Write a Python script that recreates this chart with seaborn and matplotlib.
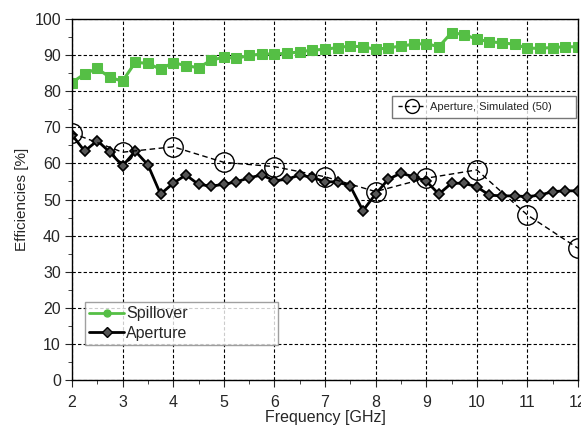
import numpy as np
import pandas as pd
import matplotlib
matplotlib.use("Agg")
import matplotlib.pyplot as plt
import seaborn as sns
from matplotlib.lines import Line2D
from matplotlib.ticker import MultipleLocator

freq = [2 + 0.25 * i for i in range(41)]
spillover = [82.4, 84.8, 86.3, 83.8, 82.8, 88.0, 87.7, 86.1, 87.9, 87.1,
             86.5, 88.6, 89.4, 89.1, 89.9, 90.3, 90.3, 90.5, 90.9, 91.4,
             91.6, 92.1, 92.5, 92.3, 91.6, 92.0, 92.5, 93.0, 93.2, 92.3,
             96.2, 95.7, 94.4, 93.7, 93.4, 93.0, 91.9, 91.9, 92.1, 92.3, 92.3]
aperture = [67.9, 63.4, 66.3, 63.1, 59.3, 63.4, 59.6, 51.5, 54.5, 56.8,
            54.2, 53.7, 54.2, 54.9, 56.0, 56.8, 55.2, 55.6, 56.8, 56.1,
            54.9, 54.9, 53.7, 46.9, 51.5, 55.6, 57.3, 56.3, 55.1, 51.5,
            54.5, 54.5, 53.5, 51.2, 51.0, 51.0, 50.8, 51.2, 52.2, 52.4, 52.4]
sim_freq = [2, 3, 4, 5, 6, 7, 8, 9, 10, 11, 12]
sim_aperture = [68.4, 63.1, 64.6, 60.3, 59.1, 56.3, 52.2, 55.9, 58.2, 45.7, 36.5]

df = pd.DataFrame({"freq": freq, "spill": spillover, "ap": aperture})
dfs = pd.DataFrame({"freq": sim_freq, "sim": sim_aperture})

sns.set_style("white")
plt.rcParams["font.family"] = ["Liberation Sans", "DejaVu Sans"]

fig = plt.figure(figsize=(5.81, 4.25), dpi=100)
ax = fig.add_axes([72 / 581, 45 / 425, 506 / 581, 361 / 425])

green = "#55bf45"
sns.lineplot(data=df, x="freq", y="spill", ax=ax, color=green, lw=2.2,
             marker="s", markersize=6.5, markeredgecolor=green, markerfacecolor=green)
sns.lineplot(data=df, x="freq", y="ap", ax=ax, color="black", lw=2.0,
             marker="D", markersize=5.5, markeredgecolor="black",
             markerfacecolor="#555555", markeredgewidth=1.2)
sns.lineplot(data=dfs, x="freq", y="sim", ax=ax, color="black", lw=1.0,
             linestyle=(0, (4, 2.5)), marker="o", markersize=14,
             markerfacecolor="none", markeredgecolor="black", markeredgewidth=1.0)

ax.set_xlim(2, 12)
ax.set_ylim(0, 100)
ax.xaxis.set_major_locator(MultipleLocator(1))
ax.xaxis.set_minor_locator(MultipleLocator(0.5))
ax.yaxis.set_major_locator(MultipleLocator(10))
ax.yaxis.set_minor_locator(MultipleLocator(5))
ax.grid(True, which="major", color="black", linestyle=(0, (3, 2)), lw=0.8)
ax.tick_params(which="major", direction="out", length=5, width=0.8,
               labelsize=11.5, bottom=True, left=True, pad=3)
ax.tick_params(axis="x", which="major", pad=6)
ax.tick_params(which="minor", direction="out", length=3, width=0.6,
               bottom=True, left=True)
for s in ax.spines.values():
    s.set_color("black")
    s.set_linewidth(1.0)

ax.set_xlabel("Frequency [GHz]", fontsize=11.5, labelpad=0)
ax.set_ylabel("Efficiencies [%]", fontsize=11, labelpad=4)

h1 = [Line2D([], [], color=green, lw=2, marker="o", markersize=5, markerfacecolor=green),
      Line2D([], [], color="black", lw=2, marker="D", markersize=5, markerfacecolor="#555555")]
leg1 = ax.legend(h1, ["Spillover", "Aperture"], loc="lower left",
                 bbox_to_anchor=(0.026, 0.097, 0.381, 0.133), mode="expand",
                 fontsize=11.5, frameon=True, fancybox=False, edgecolor="#888888",
                 handlelength=2.2, handletextpad=0.1, borderaxespad=0,
                 labelspacing=0.3, borderpad=0.25)
leg1.get_frame().set_linewidth(1.0)
ax.add_artist(leg1)

h2 = [Line2D([], [], color="black", lw=1.0, linestyle=(0, (3, 2)), marker="o",
             markersize=10, markerfacecolor="none", markeredgecolor="black")]
leg2 = ax.legend(h2, ["Aperture, Simulated (50)"], loc="lower left",
                 bbox_to_anchor=(0.632, 0.726, 0.364, 0.091), mode="expand",
                 fontsize=8, frameon=True, fancybox=False, edgecolor="#555555",
                 handlelength=2.5, handletextpad=0.4, borderaxespad=0,
                 borderpad=0.55)
leg2.get_frame().set_linewidth(1.0)

fig.savefig("out.png", dpi=100)
